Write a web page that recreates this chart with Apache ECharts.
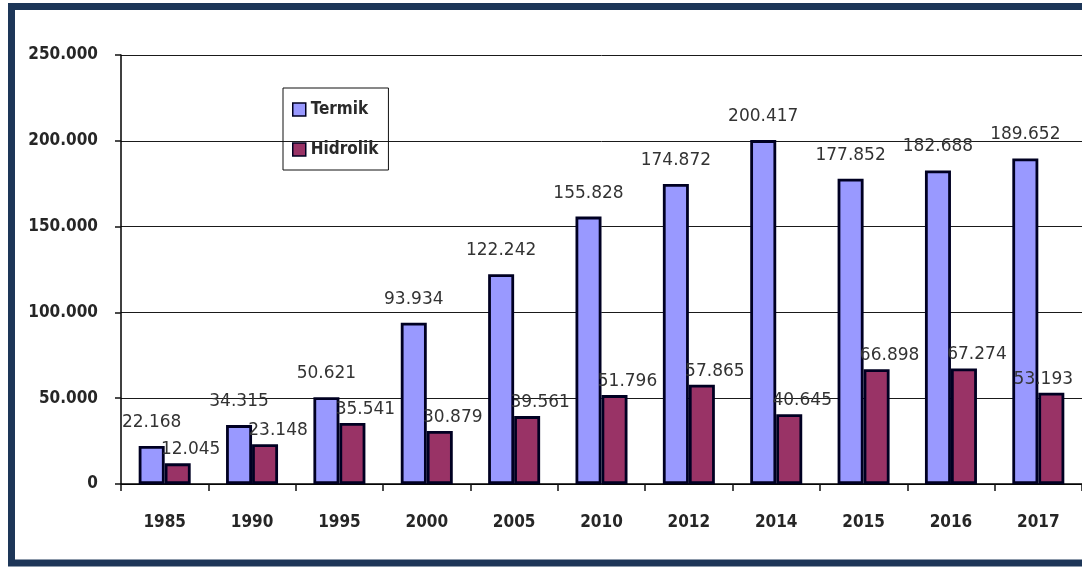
<!DOCTYPE html>
<html>
<head>
<meta charset="utf-8">
<script src="https://cdn.jsdelivr.net/npm/echarts@6/dist/echarts.min.js"></script>
<style>
  html, body { margin: 0; padding: 0; background: #ffffff; }
  #chart { width: 1082px; height: 568px; }
</style>
</head>
<body>
<div id="chart"></div>
<script>
// Installed capacity by source, per year
const categories = ['1985', '1990', '1995', '2000', '2005', '2010', '2012', '2014', '2015', '2016', '2017'];
const termik = [22168, 34315, 50621, 93934, 122242, 155828, 174872, 200417, 177852, 182688, 189652];
const hidrolik = [12045, 23148, 35541, 30879, 39561, 51796, 57865, 40645, 66898, 67274, 53193];
const seriesNames = ['Termik', 'Hidrolik'];
const yMin = 0, yMax = 250000, yStep = 50000;

// thousands separated by a dot: 22168 -> "22.168"
function fmt(v) {
  return String(v).replace(/\B(?=(\d{3})+(?!\d))/g, '.');
}

const axisFont = {
  fontFamily: 'DejaVu Sans Condensed',
  fontWeight: 'bold',
  fontSize: 17,
  color: '#262626'
};
const valueFont = {
  fontFamily: 'DejaVu Sans',
  fontSize: 17,
  color: '#333333'
};
const barBorder = { borderColor: '#000022', borderWidth: 2.8 };

// Hidrolik labels sit to the right of their bar; the last one is pulled
// left so it stays inside the frame.
const hidrolikData = hidrolik.map((v, i) =>
  i === hidrolik.length - 1 ? { value: v, label: { offset: [-8, 0] } } : v
);

const chart = echarts.init(document.getElementById('chart'), null, { renderer: 'canvas' });

chart.setOption({
  backgroundColor: '#ffffff',
  animation: false,
  graphic: [{
    type: 'rect',
    z: 100,
    silent: true,
    shape: { x: 11.5, y: 6.5, width: 1100, height: 556.5 },
    style: { fill: 'none', stroke: '#1d3658', lineWidth: 7 }
  }],
  grid: { left: 121, right: -4, top: 55, bottom: 84, containLabel: false },
  legend: {
    orient: 'vertical',
    left: 283,
    top: 88,
    data: seriesNames,
    icon: 'rect',
    itemWidth: 13,
    itemHeight: 13,
    itemGap: 23,
    itemTextGap: 5,
    padding: [13, 10, 12, 9],
    borderColor: '#111111',
    borderWidth: 1,
    backgroundColor: 'transparent',
    textStyle: {
      fontFamily: 'DejaVu Sans Condensed',
      fontWeight: 'bold',
      fontSize: 17,
      color: '#2a2a2a'
    },
    itemStyle: { borderColor: '#000022', borderWidth: 1.5 }
  },
  xAxis: {
    type: 'category',
    data: categories,
    axisLine: { lineStyle: { color: '#000000', width: 1.5 } },
    axisTick: { show: true, length: 7, inside: false, lineStyle: { color: '#111111', width: 1.5 } },
    axisLabel: Object.assign({ margin: 30 }, axisFont),
    splitLine: { show: false }
  },
  yAxis: {
    type: 'value',
    min: yMin,
    max: yMax,
    interval: yStep,
    axisLine: { show: true, lineStyle: { color: '#000000', width: 1.5 } },
    axisTick: { show: true, length: 6, lineStyle: { color: '#111111', width: 1.5 } },
    axisLabel: Object.assign({ margin: 23, formatter: fmt }, axisFont),
    splitLine: { show: true, lineStyle: { color: '#1a1a1a', width: 1 } }
  },
  series: [
    {
      name: seriesNames[0],
      type: 'bar',
      data: termik,
      barWidth: 26,
      barGap: '0%',
      itemStyle: Object.assign({ color: '#9999ff' }, barBorder),
      label: Object.assign({
        show: true,
        position: 'top',
        distance: 15,
        formatter: p => fmt(p.value)
      }, valueFont)
    },
    {
      name: seriesNames[1],
      type: 'bar',
      data: hidrolikData,
      barWidth: 26,
      barGap: '0%',
      itemStyle: Object.assign({ color: '#993366' }, barBorder),
      label: Object.assign({
        show: true,
        position: 'top',
        distance: 5,
        offset: [13, 0],
        formatter: p => fmt(p.value)
      }, valueFont)
    }
  ]
});
</script>
</body>
</html>
